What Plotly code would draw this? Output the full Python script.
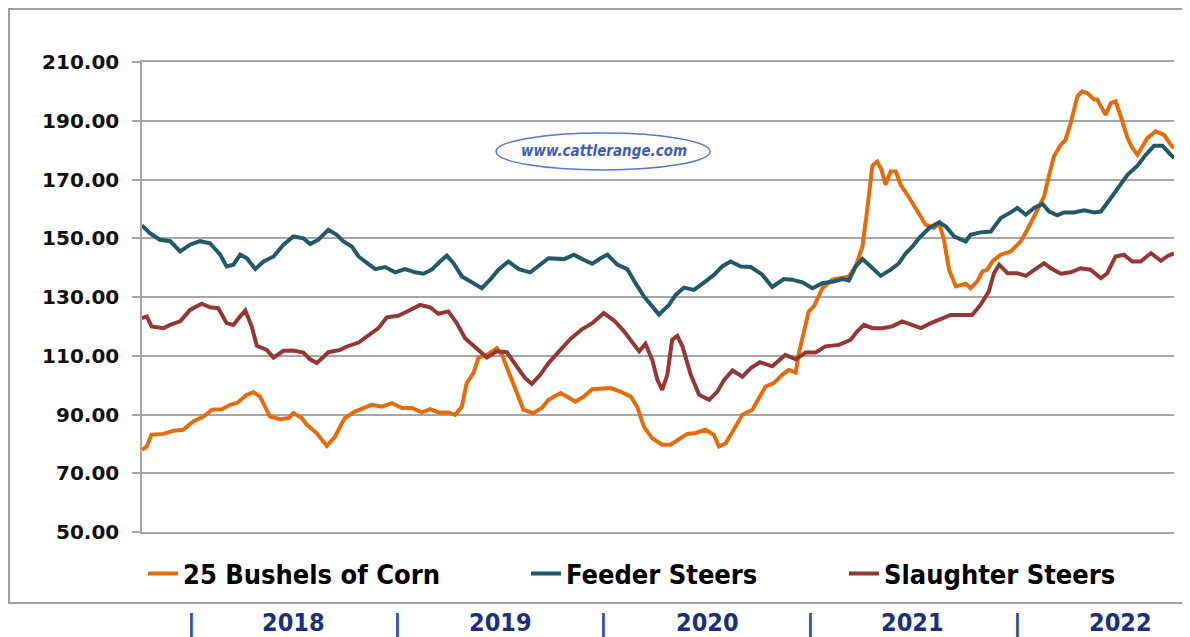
import plotly.graph_objects as go

# ---------------- data (weekly index) ----------------
corn_weeks = [0, 1.2, 2.4, 5.4, 7.9, 10.4, 12.9, 15.5, 17.6, 20.1, 22.2, 23.9, 26.4, 28.0, 29.7,
              32.2, 34.8, 36.9, 38.1, 40.2, 41.5, 44.0, 46.5, 48.6, 50.3, 51.1, 53.6, 56.1, 57.8,
              60.3, 62.9, 65.4, 67.9, 70.4, 72.5, 74.6, 77.1, 78.8, 80.5, 81.7, 83.4, 84.7, 86.8,
              89.3, 90.6, 92.2, 94.3, 96.0, 98.5, 100.6, 102.3, 105.3, 109.1, 111.2, 113.3, 116.2,
              117.9, 120.4, 123.0, 124.6, 126.3, 128.4, 130.9, 133.0, 135.1, 137.2, 139.3, 141.8,
              143.9, 145.2, 146.9, 149.0, 151.1, 153.6, 156.1, 156.9, 159.0, 161.1, 162.8, 164.5,
              165.3, 167.0, 167.8, 169.1, 171.2, 173.7, 176.2, 177.9, 179.6, 181.3, 182.5, 183.8,
              185.0, 186.1, 187.1, 188.4, 189.7, 190.9, 192.6, 193.9, 195.5, 197.2, 199.3, 200.6,
              201.8, 203.1, 204.8, 207.3, 208.5, 210.2, 211.5, 212.7, 214.0, 216.1, 218.6, 221.1,
              222.8, 224.9, 227.0, 228.3, 229.5, 231.2, 232.4, 233.7, 235.4, 236.6, 237.9, 239.6,
              240.4, 241.3, 242.5, 243.8, 245.0, 246.3, 248.0, 249.2, 250.5, 251.8, 253.0, 255.1,
              257.2, 258.9, 259.7]
corn_values = [78, 79.1, 83.1, 83.4, 84.5, 84.8, 87.6, 89.3, 91.6, 91.8, 93.3, 93.9, 96.7, 97.6, 96.1,
               89.3, 88.4, 88.8, 90.5, 88.8, 86.5, 83.6, 79.3, 82.5, 87, 88.8, 91, 92.2, 93.3,
               92.7, 93.9, 92.2, 92.2, 90.7, 91.8, 90.7, 90.7, 89.9, 92.7, 100.7, 104.1, 109.4, 110.3,
               112.6, 110.3, 104.7, 97.3, 91.6, 90.5, 92.2, 95, 97.3, 94.4, 96.1, 98.6, 99,
               99, 97.8, 96.1, 92.7, 85.9, 81.9, 79.7, 79.7, 81.4, 83.4, 83.7, 84.8,
               83.1, 79.1, 80.2, 84.8, 89.9, 91.6, 97.3, 99.5, 100.7, 103.5, 105.2, 104.3,
               110.9, 120, 125.1, 126.8, 133, 135.9, 136.4, 137, 140.4, 147.2, 159.7, 174.7,
               176.1, 173.3, 168.2, 172.7, 172.7, 168.2, 164.8, 162, 158, 154.6, 153.5, 155.2,
               149.5, 139.3, 133.6, 134.5, 133, 135.3, 138.7, 139.3, 142.1, 144.4, 145.5, 148.9,
               152.9, 158.6, 164.2, 171.6, 177.9, 181.8, 183.5, 189.2, 198.3, 200, 199.4, 197.2,
               197.2, 194.9, 192, 196, 196.6, 191.5, 184.1, 180.7, 178.4, 181.3, 184.1, 186.4,
               185.2, 181.8, 180.7]

feeder_weeks = [0, 2.0, 4.5, 7.1, 9.6, 12.1, 14.6, 17.1, 19.7, 21.3, 23.0, 24.7, 26.4, 28.5, 30.6,
                33.1, 35.6, 38.1, 40.6, 42.3, 44.4, 46.9, 49.0, 50.7, 52.8, 54.5, 56.1, 58.7, 61.2,
                63.7, 66.2, 68.7, 70.8, 72.9, 75.0, 76.7, 78.4, 80.5, 83.0, 85.5, 87.6, 89.7, 92.2,
                94.8, 97.7, 100.2, 102.3, 106.2, 108.7, 110.8, 113.3, 115.4, 117.1, 119.6, 122.1,
                124.2, 126.3, 128.4, 130.1, 132.6, 134.3, 136.4, 138.9, 141.4, 144.0, 146.0, 148.1,
                150.7, 153.2, 156.1, 158.6, 161.5, 163.6, 166.2, 168.7, 171.2, 174.1, 176.2, 177.9,
                179.6, 181.3, 183.4, 185.9, 188.4, 190.5, 192.2, 193.9, 195.5, 198.1, 200.6, 202.3,
                204.4, 207.3, 208.5, 211.0, 213.6, 216.1, 218.6, 220.3, 222.4, 224.5, 226.6, 228.3,
                230.3, 232.0, 234.5, 237.1, 239.6, 241.3, 242.9, 245.5, 248.0, 250.5, 252.6, 254.7,
                256.8, 258.5, 259.7]
feeder_values = [154.4, 151.7, 149.5, 149, 145.5, 147.8, 149, 148.3, 144.4, 140.4, 141, 144.4, 143.2, 139.5, 142.1,
                 143.8, 147.8, 150.6, 150, 148, 149.5, 152.9, 151.2, 148.9, 147.2, 143.8, 142.1, 139.5, 140.2,
                 138.4, 139.5, 138.4, 137.9, 139.3, 142.1, 144.1, 141.5, 137, 135, 133, 135.9, 139.3, 142.1,
                 139.5, 138.4, 141, 143.2, 142.9, 144.4, 142.9, 141.3, 143.2, 144.4, 141, 139.5,
                 134.7, 130.2, 126.8, 124, 127.3, 130.7, 133.2, 132.4, 134.9, 137.6, 140.4, 142.1,
                 140.4, 140.2, 137.6, 133.4, 136.1, 135.9, 135, 133, 134.7, 135.3, 136.1, 135.6,
                 140.4, 142.9, 140.4, 137.2, 139.3, 141.5, 144.9, 147.2, 150, 153.5, 155.4, 154,
                 150.6, 148.9, 151.2, 152, 152.3, 156.9, 158.8, 160.3, 158, 160.3, 161.7, 159.1,
                 157.8, 158.8, 158.8, 159.5, 158.8, 159.1, 162, 167.1, 171.6, 174.7, 178.4, 181.5,
                 181.5, 179, 177.3]

slaughter_weeks = [0, 1.2, 2.4, 5.4, 7.1, 9.6, 12.1, 15.0, 17.1, 19.2, 21.3, 23.0, 24.7, 26.0, 27.6,
                   28.9, 31.4, 33.1, 35.6, 38.1, 40.6, 42.3, 44.0, 46.9, 49.9, 51.1, 54.5, 57.0, 59.5,
                   61.6, 64.5, 67.1, 70.0, 72.5, 74.6, 77.1, 79.2, 81.3, 83.8, 86.8, 89.3, 91.8, 94.3,
                   96.4, 98.1, 100.2, 102.3, 105.3, 107.8, 110.8, 113.3, 116.2, 118.8, 121.3, 123.4,
                   125.1, 126.7, 128.4, 129.7, 130.9, 132.2, 133.4, 134.7, 136.0, 138.1, 140.2, 142.7,
                   144.8, 146.5, 148.6, 151.1, 153.2, 155.5, 158.6, 161.9, 164.5, 167.0, 169.5, 172.0,
                   175.4, 178.3, 180.0, 181.7, 183.8, 186.3, 188.8, 191.3, 193.9, 196.0, 198.5, 201.0,
                   203.5, 207.3, 208.9, 211.0, 213.1, 214.4, 215.7, 217.8, 220.3, 222.4, 224.5, 227.0,
                   228.7, 231.2, 233.7, 236.2, 238.7, 241.3, 242.9, 245.0, 247.1, 249.2, 251.3, 253.9,
                   256.4, 258.1, 259.7]
slaughter_values = [122.8, 123.4, 120, 119.4, 120.5, 121.7, 125.6, 127.7, 126.5, 126.2, 121.1, 120.5, 123.4, 125.4, 120,
                    113.4, 112, 109.4, 111.7, 111.8, 111.1, 108.8, 107.5, 111.2, 112, 112.9, 114.5, 117.1, 119.4,
                    123.1, 123.6, 125.3, 127.3, 126.5, 124.3, 125.1, 121.1, 116, 112.9, 109.4, 111.5, 111.2, 106.4,
                    102.4, 100.4, 103.5, 107.5, 112, 115.7, 119.1, 121.1, 124.5, 122, 118.3, 114.3,
                    111.5, 114.1, 108.6, 101.8, 98.4, 103.5, 115.4, 116.8, 113.2, 103.5, 96.7, 95,
                    97.8, 101.8, 105, 102.9, 105.8, 107.8, 106.4, 110.3, 108.8, 111.1, 111.1, 113.2,
                    113.7, 115.4, 118.3, 120.5, 119.4, 119.4, 120, 121.7, 120.5, 119.4, 121.1, 122.5,
                    123.9, 123.9, 123.9, 127.3, 131.9, 138.1, 141, 138.1, 138.1, 137.2, 139, 141.5,
                    139.8, 137.9, 138.4, 139.8, 139.3, 136.4, 138.1, 143.8, 144.4, 142.1, 142.1, 144.9,
                    142.3, 144, 144.9]

series_names = ["25 Bushels of Corn", "Feeder Steers", "Slaughter Steers"]
year_labels = ["2018", "2019", "2020", "2021", "2022"]
y_ticks = [50, 70, 90, 110, 130, 150, 170, 190, 210]

# ---------------- layout geometry ----------------
# The page body adds an 8px offset, so the figure is 8px smaller and all
# screen positions below are given in window pixels.
OFF = 8
W, H = 1190 - OFF, 637 - OFF
PLOT_L, PLOT_R, PLOT_T, PLOT_B = 142, 1174, 62, 532      # window pixels
L, T = PLOT_L - OFF, PLOT_T - OFF
R, B = W - (PLOT_R - OFF), H - (PLOT_B - OFF)
PW, PH = PLOT_R - PLOT_L, PLOT_B - PLOT_T

def px(x):
    return (x - PLOT_L) / PW

def py(y):
    return (PLOT_B - y) / PH

colors = ["#E46C0A", "#215968", "#953735"]
grid = "#A6A6A6"
navy = "#1B2F7E"
cond = "DejaVu Sans Condensed, DejaVu Sans"
legend_font = dict(family=cond, size=27, color="#000000", weight="bold")

fig = go.Figure()
datasets = [(corn_weeks, corn_values), (feeder_weeks, feeder_values), (slaughter_weeks, slaughter_values)]
legend_ids = ["legend", "legend2", "legend3"]
for (xs, ys), name, col, lg in zip(datasets, series_names, colors, legend_ids):
    fig.add_trace(go.Scatter(x=xs, y=ys, mode="lines", name=name,
                             line=dict(color=col, width=4), legend=lg, hoverinfo="skip"))

legend_x_px = [143, 526, 844]
common_legend = dict(orientation="h", yanchor="middle", xanchor="left", y=py(574),
                     font=legend_font, bgcolor="rgba(0,0,0,0)", borderwidth=0,
                     itemwidth=30, tracegroupgap=0)

fig.update_layout(
    width=W, height=H,
    margin=dict(l=L, r=R, t=T, b=B, autoexpand=False),
    paper_bgcolor="white", plot_bgcolor="white",
    showlegend=True,
    legend=dict(x=px(legend_x_px[0]), **common_legend),
    legend2=dict(x=px(legend_x_px[1]), **common_legend),
    legend3=dict(x=px(legend_x_px[2]), **common_legend),
    xaxis=dict(range=[0, 259.7], showgrid=False, zeroline=False, showticklabels=False,
               ticks="", showline=True, linecolor=grid, linewidth=1.5, mirror=True),
    yaxis=dict(range=[50, 210], tickvals=y_ticks, tickformat=".2f",
               showgrid=True, gridcolor=grid, gridwidth=1.5, zeroline=False,
               showline=True, linecolor=grid, linewidth=1.5,
               ticks="outside", ticklen=8, tickcolor=grid, tickwidth=1.5,
               ticklabelstandoff=9,
               tickfont=dict(family="DejaVu Sans", size=20, color="#111111", weight="bold")),
)

# outer chart border (left/top edges sit at the figure's edge)
fig.add_shape(type="rect", xref="paper", yref="paper",
              x0=px(OFF + 1), x1=px(1200), y0=py(603), y1=py(OFF + 1),
              line=dict(color="#A0A0A0", width=2), fillcolor="rgba(0,0,0,0)", layer="below")

# watermark ellipse and text
fig.add_shape(type="circle", xref="paper", yref="paper",
              x0=px(496), x1=px(710), y0=py(170), y1=py(133),
              line=dict(color="#5677CC", width=1.5), fillcolor="white", layer="above")
fig.add_annotation(xref="paper", yref="paper", x=px(604), y=py(151), text="<i>www.cattlerange.com</i>",
                   showarrow=False, xanchor="center", yanchor="middle",
                   font=dict(family=cond, size=15, color="#3F5DB5", weight="bold"))

# year labels with separators below the chart
year_centers = [293, 500, 707, 912, 1120]
sep_positions = [191, 397, 603, 810, 1017]
for yl, cx in zip(year_labels, year_centers):
    fig.add_annotation(xref="paper", yref="paper", x=px(cx), y=py(622), text=yl, showarrow=False,
                       xanchor="center", yanchor="middle",
                       font=dict(family=cond, size=25, color=navy, weight="bold"))
for sx in sep_positions:
    fig.add_annotation(xref="paper", yref="paper", x=px(sx), y=py(624), text="|", showarrow=False,
                       xanchor="center", yanchor="middle",
                       font=dict(family="DejaVu Sans", size=24, color="#2A4D9E", weight="bold"))

fig.write_html("out.html")
